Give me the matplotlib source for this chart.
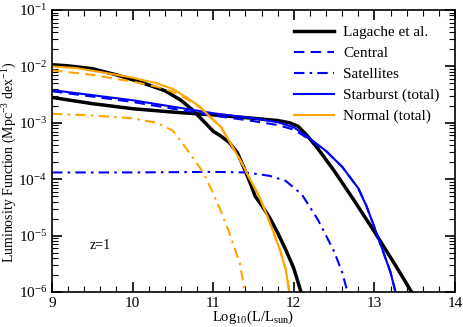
import numpy as np
import matplotlib
matplotlib.use('Agg')
from matplotlib import pyplot as plt
from matplotlib.ticker import MultipleLocator, LogLocator, NullFormatter

plt.rcParams['font.family'] = ['Liberation Serif', 'DejaVu Serif']
plt.rcParams['mathtext.fontset'] = 'custom'
plt.rcParams['mathtext.rm'] = 'Liberation Serif'
plt.rcParams['mathtext.it'] = 'Liberation Serif:italic'

# log10(L/Lsun) and log10(phi)
lag_norm_x = [9.0, 9.2, 9.5, 9.8, 10.1, 10.4, 10.6, 10.75, 10.9, 11.0, 11.1, 11.2, 11.3,
              11.37, 11.46, 11.52, 11.6, 11.7, 11.8, 11.9, 12.0, 12.1]
lag_norm_y = [-1.97, -1.99, -2.04, -2.15, -2.28, -2.43, -2.6, -2.78, -3.0, -3.15, -3.24, -3.35, -3.53,
              -3.76, -4.07, -4.3, -4.46, -4.68, -4.95, -5.25, -5.58, -6.05]

lag_sb_x = [9.0, 9.5, 10.0, 10.5, 11.0, 11.5, 11.8, 11.95, 12.05, 12.15, 12.3, 12.5, 12.75, 13.0, 13.25, 13.47]
lag_sb_y = [-2.55, -2.66, -2.75, -2.81, -2.86, -2.92, -2.96, -3.0, -3.06, -3.2, -3.46, -3.85, -4.38, -4.93, -5.5, -6.02]

sb_tot_x = [9.0, 10.0, 11.0, 11.5, 11.8, 12.0, 12.2, 12.4, 12.6, 12.8, 12.9, 13.0, 13.1, 13.2, 13.27]
sb_tot_y = [-2.42, -2.6, -2.83, -2.92, -2.99, -3.08, -3.28, -3.5, -3.78, -4.16, -4.47, -4.85, -5.25, -5.65, -6.05]

sb_cen_x = [9.0, 10.0, 11.0, 11.5, 11.8, 12.0, 12.2, 12.4, 12.6, 12.8, 12.9, 13.0, 13.1, 13.2, 13.27]
sb_cen_y = [-2.44, -2.63, -2.87, -2.97, -3.04, -3.12, -3.3, -3.5, -3.78, -4.16, -4.47, -4.85, -5.25, -5.65, -6.05]

sb_sat_x = [9.0, 10.0, 11.0, 11.4, 11.7, 11.9, 12.1, 12.3, 12.5, 12.6, 12.67]
sb_sat_y = [-3.88, -3.88, -3.87, -3.88, -3.94, -4.03, -4.27, -4.72, -5.28, -5.65, -6.02]

no_tot_x = [9.0, 9.3, 9.6, 10.0, 10.3, 10.5, 10.7, 10.84, 10.95, 11.1, 11.25, 11.35, 11.46,
            11.57, 11.67, 11.75, 11.83, 11.9, 11.95]
no_tot_y = [-2.0, -2.03, -2.1, -2.2, -2.3, -2.4, -2.58, -2.72, -2.88, -3.08, -3.45, -3.7, -4.01,
            -4.3, -4.65, -4.95, -5.26, -5.6, -6.05]

no_cen_x = [9.0, 9.5, 10.0, 10.3, 10.5, 10.7, 10.84, 10.95, 11.1, 11.25, 11.35, 11.46,
            11.57, 11.67, 11.75, 11.83, 11.9, 11.95]
no_cen_y = [-2.07, -2.15, -2.27, -2.36, -2.45, -2.6, -2.73, -2.88, -3.08, -3.45, -3.7, -4.01,
            -4.3, -4.65, -4.95, -5.26, -5.6, -6.05]

no_sat_x = [9.0, 9.5, 10.0, 10.3, 10.5, 10.7, 10.88, 11.0, 11.1, 11.2, 11.33, 11.4]
no_sat_y = [-2.84, -2.87, -2.92, -3.0, -3.14, -3.52, -3.89, -4.25, -4.58, -4.95, -5.49, -6.05]

blue = '#0000ff'
orange = '#ffa500'

fig = plt.figure(figsize=(4.63, 3.27), dpi=100)
ax = fig.add_axes([0.1123, 0.107, 0.8704, 0.8624])

ax.plot(lag_norm_x, 10 ** np.array(lag_norm_y), color='black', lw=2.5, label='Lagache et al.')
ax.plot(lag_sb_x, 10 ** np.array(lag_sb_y), color='black', lw=2.5)
ax.plot(sb_cen_x, 10 ** np.array(sb_cen_y), color=blue, lw=1.5, dashes=(5, 3), label='Central')
ax.plot(sb_sat_x, 10 ** np.array(sb_sat_y), color=blue, lw=1.5, dashes=(5, 2.5, 1.2, 2.5), label='Satellites')
ax.plot(sb_tot_x, 10 ** np.array(sb_tot_y), color=blue, lw=1.5, label='Starburst (total)')
ax.plot(no_tot_x, 10 ** np.array(no_tot_y), color=orange, lw=1.5, label='Normal (total)')
ax.plot(no_cen_x, 10 ** np.array(no_cen_y), color=orange, lw=1.5, dashes=(5, 3))
ax.plot(no_sat_x, 10 ** np.array(no_sat_y), color=orange, lw=1.5, dashes=(5, 2.5, 1.2, 2.5))

ax.set_yscale('log')
ax.set_xlim(9, 14)
ax.set_ylim(1e-6, 1e-1)
ax.xaxis.set_major_locator(MultipleLocator(1))
ax.xaxis.set_minor_locator(MultipleLocator(0.2))
ax.yaxis.set_major_locator(LogLocator(base=10, numticks=10))
ax.yaxis.set_minor_locator(LogLocator(base=10, subs=np.arange(2, 10), numticks=10))
ax.yaxis.set_minor_formatter(NullFormatter())
ax.tick_params(which='both', direction='in', top=True, right=True, labelsize=11)
ax.tick_params(which='major', length=7, width=1.2)
ax.tick_params(which='minor', length=4, width=0.8)
for s in ax.spines.values():
    s.set_linewidth(1.2)

ax.set_xlabel(r'Log$_{10}$(L/L$_{\rm sun}$)', fontsize=10.5)
ax.xaxis.set_label_coords(0.5, -0.058)
ax.set_ylabel(r'Luminosity Function (Mpc$^{-3}$ dex$^{-1}$)', fontsize=10)
ax.yaxis.set_label_coords(-0.082, 0.46)
ax.text(9.47, 10 ** -5.17, 'z=1', fontsize=10, ha='left', va='center')

ax.legend(loc='upper right', frameon=False, fontsize=11, handlelength=2.6,
          handletextpad=0.6, labelspacing=0.48, borderaxespad=0.6)

fig.savefig('out.png', dpi=100)
